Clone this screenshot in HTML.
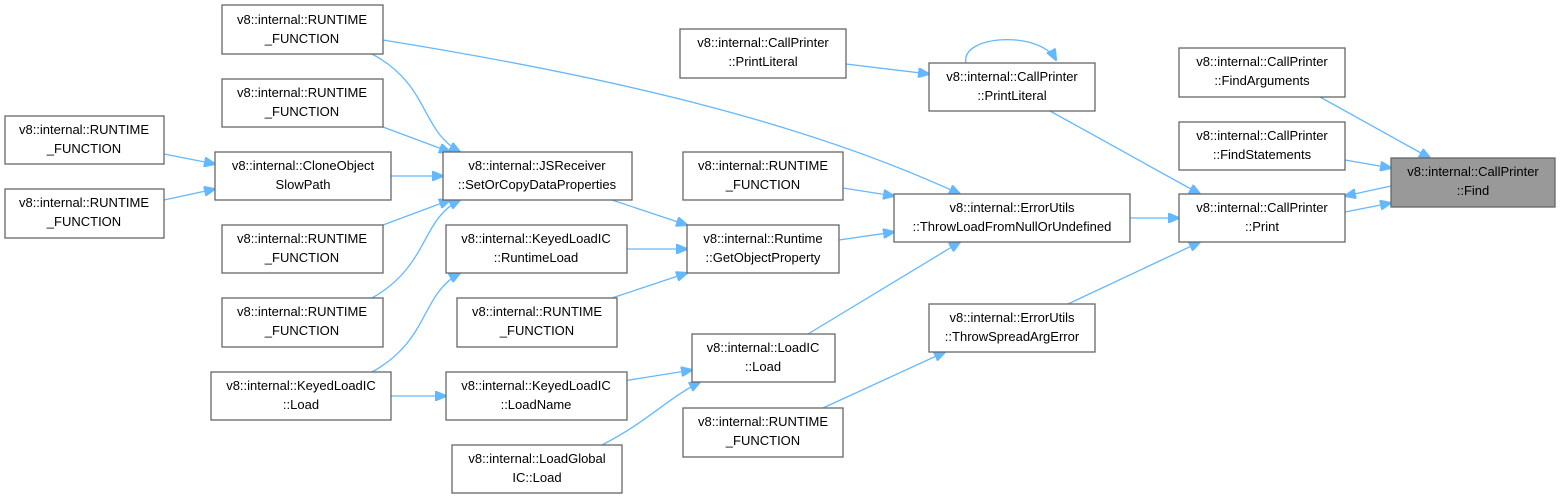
<!DOCTYPE html>
<html><head><meta charset="utf-8"><style>
html,body{margin:0;padding:0;background:#fff;}
svg{display:block;}
text{font-family:"Liberation Sans",sans-serif;font-size:13px;fill:#000;text-anchor:middle;}
rect{fill:#fff;stroke:#666;stroke-width:1.3;}
path{fill:none;stroke:#63b8ff;stroke-width:1.3;}
</style></head><body>
<svg width="1561" height="499" viewBox="0 0 1561 499">
<defs><marker id="a" markerWidth="12" markerHeight="10" refX="11" refY="5" orient="auto" markerUnits="userSpaceOnUse"><path d="M0,0 L12,5 L0,10 z" style="fill:#63b8ff;stroke:#63b8ff"/></marker></defs>
<g marker-end="url(#a)">
<path d="M383,40 C600,75 800,120 960,194"/>
<path d="M372,54 C430,85 420,130 460,152"/>
<path d="M383,127 L450,152"/>
<path d="M164,154 L215,164"/>
<path d="M164,200 L215,189"/>
<path d="M391,176 L443,176"/>
<path d="M383,225 L450,200"/>
<path d="M372,298 C430,265 420,220 460,200"/>
<path d="M372,372 C430,340 420,295 460,273"/>
<path d="M391,396 L446,396"/>
<path d="M612,200 L687,225"/>
<path d="M627,249 L687,249"/>
<path d="M612,298 L687,273"/>
<path d="M617,382 L692,370"/>
<path d="M602,445 C650,420 665,400 700,382"/>
<path d="M846,64 L929,74"/>
<path d="M966,63 C960,35 1040,30 1056,60"/>
<path d="M843,188 L894,196"/>
<path d="M839,240 L894,232"/>
<path d="M808,334 L960,242"/>
<path d="M1130,218 L1179,218"/>
<path d="M1050,111 L1200,194"/>
<path d="M1068,304 L1200,242"/>
<path d="M823,408 L945,352"/>
<path d="M1320,97 L1430,158"/>
<path d="M1345,160 L1391,168"/>
<path d="M1345,212 L1391,203"/>
<path d="M1391,186 L1345,196"/>
</g>
<g>
<rect x="222" y="5" width="161" height="49"/><text x="302" y="24">v8::internal::RUNTIME</text><text x="302" y="43">_FUNCTION</text>
<rect x="222" y="79" width="161" height="48"/><text x="302" y="97">v8::internal::RUNTIME</text><text x="302" y="116">_FUNCTION</text>
<rect x="5" y="116" width="159" height="48"/><text x="84" y="134">v8::internal::RUNTIME</text><text x="84" y="153">_FUNCTION</text>
<rect x="5" y="189" width="159" height="49"/><text x="84" y="207">v8::internal::RUNTIME</text><text x="84" y="226">_FUNCTION</text>
<rect x="215" y="152" width="176" height="48"/><text x="303" y="170">v8::internal::CloneObject</text><text x="303" y="189">SlowPath</text>
<rect x="222" y="225" width="161" height="48"/><text x="302" y="243">v8::internal::RUNTIME</text><text x="302" y="262">_FUNCTION</text>
<rect x="222" y="298" width="161" height="49"/><text x="302" y="316">v8::internal::RUNTIME</text><text x="302" y="335">_FUNCTION</text>
<rect x="211" y="372" width="180" height="48"/><text x="301" y="390">v8::internal::KeyedLoadIC</text><text x="301" y="409">::Load</text>
<rect x="443" y="152" width="189" height="48"/><text x="537" y="170">v8::internal::JSReceiver</text><text x="537" y="189">::SetOrCopyDataProperties</text>
<rect x="446" y="225" width="181" height="48"/><text x="536" y="243">v8::internal::KeyedLoadIC</text><text x="536" y="262">::RuntimeLoad</text>
<rect x="457" y="298" width="160" height="49"/><text x="537" y="316">v8::internal::RUNTIME</text><text x="537" y="335">_FUNCTION</text>
<rect x="446" y="372" width="181" height="48"/><text x="536" y="390">v8::internal::KeyedLoadIC</text><text x="536" y="409">::LoadName</text>
<rect x="452" y="445" width="170" height="48"/><text x="537" y="463">v8::internal::LoadGlobal</text><text x="537" y="482">IC::Load</text>
<rect x="680" y="29" width="166" height="49"/><text x="763" y="47">v8::internal::CallPrinter</text><text x="763" y="66">::PrintLiteral</text>
<rect x="683" y="152" width="160" height="48"/><text x="763" y="170">v8::internal::RUNTIME</text><text x="763" y="189">_FUNCTION</text>
<rect x="687" y="225" width="152" height="48"/><text x="763" y="243">v8::internal::Runtime</text><text x="763" y="262">::GetObjectProperty</text>
<rect x="692" y="334" width="143" height="48"/><text x="763" y="352">v8::internal::LoadIC</text><text x="763" y="371">::Load</text>
<rect x="683" y="408" width="160" height="49"/><text x="763" y="426">v8::internal::RUNTIME</text><text x="763" y="445">_FUNCTION</text>
<rect x="929" y="63" width="166" height="48"/><text x="1012" y="81">v8::internal::CallPrinter</text><text x="1012" y="100">::PrintLiteral</text>
<rect x="894" y="194" width="236" height="48"/><text x="1012" y="212">v8::internal::ErrorUtils</text><text x="1012" y="231">::ThrowLoadFromNullOrUndefined</text>
<rect x="929" y="304" width="166" height="48"/><text x="1012" y="322">v8::internal::ErrorUtils</text><text x="1012" y="341">::ThrowSpreadArgError</text>
<rect x="1179" y="48" width="166" height="49"/><text x="1262" y="66">v8::internal::CallPrinter</text><text x="1262" y="85">::FindArguments</text>
<rect x="1179" y="122" width="166" height="48"/><text x="1262" y="140">v8::internal::CallPrinter</text><text x="1262" y="159">::FindStatements</text>
<rect x="1179" y="194" width="166" height="48"/><text x="1262" y="212">v8::internal::CallPrinter</text><text x="1262" y="231">::Print</text>
<rect x="1391" y="158" width="164" height="49" style="fill:#999"/><text x="1473" y="176">v8::internal::CallPrinter</text><text x="1473" y="195">::Find</text>
</g>
</svg>
</body></html>
